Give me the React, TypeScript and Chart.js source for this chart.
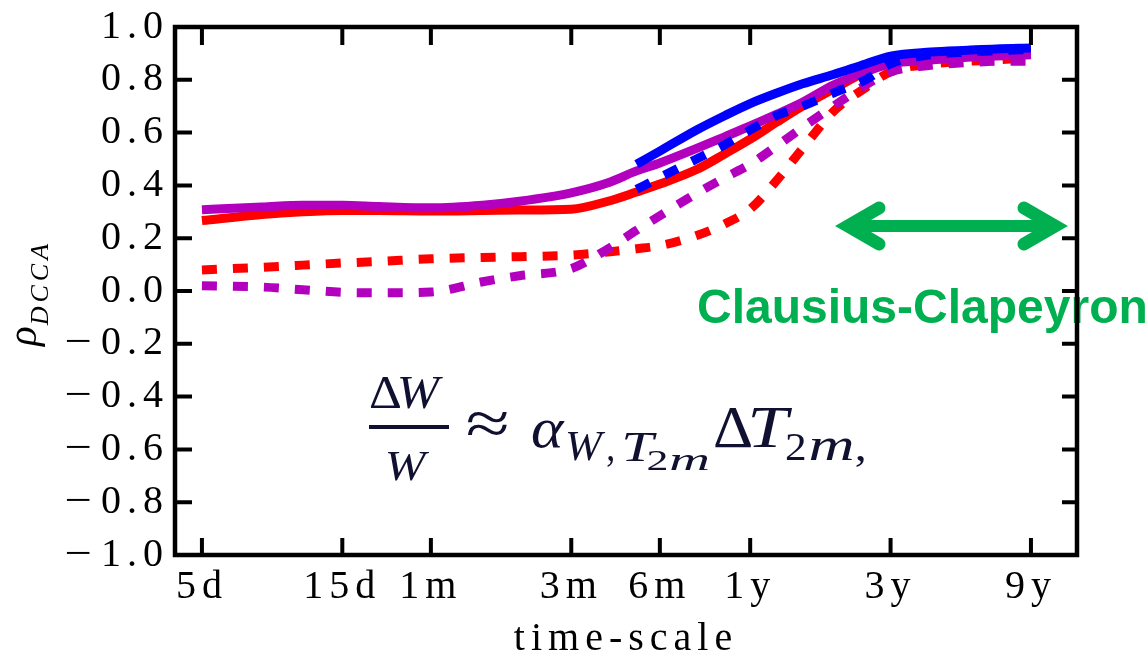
import React, { useEffect, useRef } from 'react';
import { Chart, registerables } from 'chart.js';

Chart.register(...registerables);

// time-scales (days) at which the correlation curves are sampled
const timeScaleDays = [5, 8, 11, 15, 20, 30, 45, 60, 90, 120, 150, 180, 240, 300, 365, 450, 550, 700, 900, 1095, 1500, 2000, 2500, 3285];

const blueSolid = [null, null, null, null, null, null, null, null, null, null, 0.48, 0.53, 0.61, 0.665, 0.71, 0.75, 0.785, 0.82, 0.86, 0.89, 0.905, 0.912, 0.917, 0.92];
const blueDashed = [null, null, null, null, null, null, null, null, null, null, 0.385, 0.43, 0.5, 0.555, 0.61, 0.665, 0.7, 0.75, 0.8, 0.86, 0.895, 0.905, 0.91, 0.915];
const purpleSolid = [0.308, 0.318, 0.325, 0.325, 0.32, 0.315, 0.325, 0.34, 0.372, 0.41, 0.455, 0.485, 0.54, 0.585, 0.625, 0.67, 0.715, 0.78, 0.83, 0.86, 0.875, 0.885, 0.89, 0.895];
const redSolid = [0.267, 0.29, 0.3, 0.305, 0.305, 0.303, 0.305, 0.307, 0.31, 0.34, 0.375, 0.405, 0.46, 0.52, 0.575, 0.64, 0.7, 0.765, 0.83, 0.865, 0.885, 0.895, 0.905, 0.91];
const purpleDashed = [0.02, 0.015, 0.005, -0.005, -0.007, -0.004, 0.035, 0.058, 0.085, 0.16, 0.23, 0.285, 0.37, 0.43, 0.48, 0.55, 0.62, 0.7, 0.78, 0.83, 0.855, 0.865, 0.87, 0.87];
const redDashed = [0.08, 0.09, 0.098, 0.106, 0.112, 0.122, 0.127, 0.13, 0.136, 0.148, 0.16, 0.172, 0.21, 0.255, 0.31, 0.42, 0.54, 0.68, 0.77, 0.83, 0.86, 0.87, 0.875, 0.885];

const xTickDays = [5, 15, 30, 90, 180, 365, 1095, 3285];
const xTickLabels = ['5d', '15d', '1m', '3m', '6m', '1y', '3y', '9y'];
const yTickValues = [-1, -0.8, -0.6, -0.4, -0.2, 0, 0.2, 0.4, 0.6, 0.8, 1];
const yTickLabels = ['\u22121.0', '\u22120.8', '\u22120.6', '\u22120.4', '\u22120.2', '0.0', '0.2', '0.4', '0.6', '0.8', '1.0'];

const RED = '#ff0000';
const PURPLE = '#b300bf';
const BLUE = '#0000ff';
const GREEN = '#00b050';
const INK = '#101030';
const SERIF = '"Liberation Serif", "Times New Roman", serif';
const SANS = '"Liberation Sans", Arial, sans-serif';

const toPoints = (values: (number | null)[]) =>
  timeScaleDays.map((d, i) => ({ x: d, y: values[i] }));

const line = (label: string, values: (number | null)[], color: string, dashed: boolean) => ({
  label,
  data: toPoints(values),
  borderColor: color,
  backgroundColor: color,
  borderWidth: 9,
  borderDash: dashed ? [15, 16] : [],
  borderCapStyle: 'butt' as const,
  pointRadius: 0,
  cubicInterpolationMode: 'monotone' as const,
  spanGaps: false,
  fill: false,
});

// draws text t so that its ink spans x0..x1 (horizontal stretch only)
const fitText = (
  ctx: CanvasRenderingContext2D,
  t: string,
  x0: number,
  x1: number,
  y: number,
  font: string,
) => {
  ctx.save();
  ctx.font = font;
  ctx.textAlign = 'left';
  const m = ctx.measureText(t);
  const gw = m.actualBoundingBoxLeft + m.actualBoundingBoxRight;
  const sx = gw > 0 ? (x1 - x0) / gw : 1;
  ctx.translate(x0, y);
  ctx.scale(sx, 1);
  ctx.fillText(t, m.actualBoundingBoxLeft, 0);
  ctx.restore();
};

const spacingPlugin = {
  id: 'tickLetterSpacing',
  beforeUpdate(chart: any) { chart.ctx.letterSpacing = '6px'; },
  beforeLayout(chart: any) { chart.ctx.letterSpacing = '6px'; },
  beforeDraw(chart: any) { chart.ctx.letterSpacing = '6px'; },
};

const annotationPlugin = {
  id: 'annotations',
  afterDatasetsDraw(chart: any) {
    const ctx: CanvasRenderingContext2D = chart.ctx;
    const ys = chart.scales.y;
    ctx.save();

    // y tick labels: wide minus sign, spaced digits
    ctx.fillStyle = '#000';
    ctx.textBaseline = 'middle';
    yTickValues.forEach((v, i) => {
      const py = ys.getPixelForValue(v);
      const label = yTickLabels[i];
      const negative = label.startsWith('\u2212');
      const digits = negative ? label.slice(1) : label;
      (ctx as any).letterSpacing = '6px';
      ctx.font = `40px ${SERIF}`;
      ctx.textAlign = 'right';
      ctx.fillText(digits, 169, py);
      if (negative) {
        (ctx as any).letterSpacing = '0px';
        fitText(ctx, '\u2212', 67, 90, py, `40px ${SERIF}`);
      }
    });

    (ctx as any).letterSpacing = '0px';
    ctx.textBaseline = 'alphabetic';
    ctx.textAlign = 'left';

    // y-axis title: rho with DCCA subscript, rotated
    ctx.save();
    ctx.translate(36, 346);
    ctx.rotate(-Math.PI / 2);
    ctx.fillStyle = '#000';
    ctx.font = `italic 41px ${SERIF}`;
    ctx.fillText('\u03C1', 0, 0);
    const rw = ctx.measureText('\u03C1').width;
    ctx.font = `italic 26px ${SERIF}`;
    (ctx as any).letterSpacing = '4px';
    ctx.fillText('DCCA', rw + 1, 12);
    (ctx as any).letterSpacing = '0px';
    ctx.restore();

    // double-headed arrow
    ctx.strokeStyle = GREEN;
    ctx.lineCap = 'round';
    ctx.lineJoin = 'miter';
    ctx.miterLimit = 10;
    ctx.lineWidth = 12;
    ctx.beginPath();
    ctx.moveTo(850, 226);
    ctx.lineTo(1054, 226);
    ctx.stroke();
    ctx.lineWidth = 13;
    ctx.beginPath();
    ctx.moveTo(879, 208);
    ctx.lineTo(848, 226);
    ctx.lineTo(879, 244);
    ctx.moveTo(1024, 208);
    ctx.lineTo(1055, 226);
    ctx.lineTo(1024, 244);
    ctx.stroke();

    ctx.fillStyle = GREEN;
    ctx.font = `bold 48px ${SANS}`;
    ctx.fillText('Clausius-Clapeyron', 697, 323);

    // relation written inside the plot
    ctx.fillStyle = INK;
    const f = (size: number, italic: boolean) => `${italic ? 'italic ' : ''}${size}px ${SERIF}`;
    fitText(ctx, '\u0394', 370, 400, 408, f(46, false));
    fitText(ctx, 'W', 400, 443, 408, f(46, true));
    ctx.fillRect(369, 425, 80, 4);
    fitText(ctx, 'W', 387, 430, 480, f(42, true));
    fitText(ctx, '\u2248', 467, 507, 444, f(62, false));
    fitText(ctx, '\u03B1', 532, 565, 447, f(58, true));
    fitText(ctx, 'W', 567, 606, 460, f(42, true));
    fitText(ctx, ',', 607, 613, 460, f(42, false));
    fitText(ctx, 'T', 624, 657, 461, f(42, true));
    fitText(ctx, '2', 648, 667, 470, f(30, false));
    fitText(ctx, 'm', 671, 708, 470, f(32, true));
    fitText(ctx, '\u0394', 715, 751, 447, f(59, false));
    fitText(ctx, 'T', 751, 793, 447, f(59, true));
    fitText(ctx, '2', 786, 805, 460, f(41, false));
    fitText(ctx, 'm', 810, 853, 460, f(46, true));
    fitText(ctx, ',', 856, 864, 460, f(42, false));

    ctx.restore();
  },
  afterDraw(chart: any) {
    const ctx: CanvasRenderingContext2D = chart.ctx;
    const a = chart.chartArea;
    const xs = chart.scales.x;
    const ys = chart.scales.y;
    ctx.save();
    ctx.strokeStyle = '#000';
    ctx.lineWidth = 4.5;
    ctx.lineCap = 'butt';
    ctx.lineJoin = 'miter';
    ctx.strokeRect(a.left, a.top, a.right - a.left, a.bottom - a.top);
    ctx.lineWidth = 4;
    ctx.beginPath();
    for (const d of xTickDays) {
      const px = xs.getPixelForValue(d);
      ctx.moveTo(px, a.bottom);
      ctx.lineTo(px, a.bottom - 17);
      ctx.moveTo(px, a.top);
      ctx.lineTo(px, a.top + 18);
    }
    for (const v of yTickValues) {
      const py = ys.getPixelForValue(v);
      ctx.moveTo(a.left, py);
      ctx.lineTo(a.left + 17, py);
      ctx.moveTo(a.right, py);
      ctx.lineTo(a.right - 15, py);
    }
    ctx.stroke();
    ctx.restore();
  },
};

export default function App() {
  const canvasRef = useRef<HTMLCanvasElement | null>(null);

  useEffect(() => {
    if (!canvasRef.current) return;
    const chart = new Chart(canvasRef.current, {
      type: 'line',
      data: {
        datasets: [
          line('blue solid', blueSolid, BLUE, false),
          line('blue dashed', blueDashed, BLUE, true),
          line('purple solid', purpleSolid, PURPLE, false),
          line('red solid', redSolid, RED, false),
          line('purple dashed', purpleDashed, PURPLE, true),
          line('red dashed', redDashed, RED, true),
        ],
      },
      options: {
        animation: false,
        responsive: false,
        devicePixelRatio: 1,
        layout: { padding: { left: 0, right: 71, top: 27, bottom: 0 } },
        plugins: { legend: { display: false }, tooltip: { enabled: false } },
        scales: {
          x: {
            type: 'logarithmic',
            min: 4.05,
            max: 4710,
            grid: { display: false, drawTicks: false },
            border: { display: false },
            afterBuildTicks: (scale: any) => {
              scale.ticks = xTickDays.map((v) => ({ value: v }));
            },
            afterFit: (scale: any) => { scale.height = 100; },
            ticks: {
              autoSkip: false,
              maxRotation: 0,
              padding: 8,
              color: '#000',
              font: { family: SERIF, size: 40 },
              callback: (_v: any, i: number) => xTickLabels[i],
            },
            title: {
              display: true,
              text: 'time-scale',
              color: '#000',
              font: { family: SERIF, size: 40, lineHeight: 0.8 },
              padding: 0,
            },
          },
          y: {
            type: 'linear',
            min: -1,
            max: 1,
            grid: { display: false, drawTicks: false },
            border: { display: false },
            afterBuildTicks: (scale: any) => {
              scale.ticks = yTickValues.map((v) => ({ value: v }));
            },
            afterFit: (scale: any) => { scale.width = 175; },
            ticks: { display: false },
          },
        },
      } as any,
      plugins: [spacingPlugin, annotationPlugin],
    });
    return () => chart.destroy();
  }, []);

  return (
    <div style={{ position: 'absolute', left: 0, top: 0, width: 1148, height: 655, background: '#fff' }}>
      <canvas ref={canvasRef} width={1148} height={655} style={{ display: 'block' }} />
    </div>
  );
}
